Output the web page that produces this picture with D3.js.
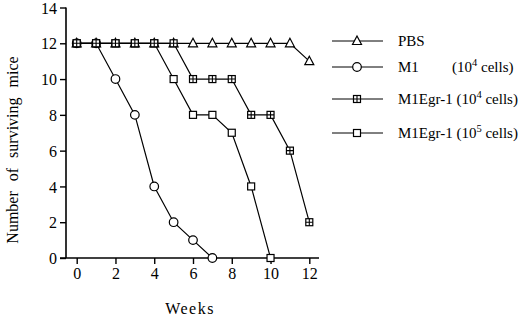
<!DOCTYPE html>
<html><head><meta charset="utf-8">
<script src="https://cdn.jsdelivr.net/npm/d3@7"></script>
<style>body{margin:0;background:#fff}svg{display:block}</style>
</head><body>
<svg id="c" width="520" height="320" style="font-family:'Liberation Serif',serif"></svg>
<script>
const weeks = [0,1,2,3,4,5,6,7,8,9,10,11,12];
const pbs = [12,12,12,12,12,12,12,12,12,12,12,12,11];
const m1 = [12,12,10,8,4,2,1,0];
const egr4 = [12,12,12,12,12,12,10,10,10,8,8,6,2];
const egr5 = [12,12,12,12,12,10,8,8,7,4,0];
const xTicks = [0,2,4,6,8,10,12];
const yTicks = [0,2,4,6,8,10,12,14];
const series = [
  {name:"PBS", cells:null, exp:null, values:pbs, marker:"triangle"},
  {name:"M1", cells:"(10", exp:"4", values:m1, marker:"circle"},
  {name:"M1Egr-1", cells:"(10", exp:"5", values:egr5, marker:"square"},
  {name:"M1Egr-1", cells:"(10", exp:"4", values:egr4, marker:"crossed"}
];
const legendOrder = [0,1,3,2];
const FONT = "'Liberation Serif', serif";

const svg = d3.select("#c");
const x = d3.scaleLinear().domain([0,12]).range([76.7,309.3]);
const y = d3.scaleLinear().domain([0,14]).range([258,7.5]);

// axes
const gy = svg.append("g").attr("transform","translate(66,0)")
  .call(d3.axisLeft(y).tickValues(yTicks).tickSize(6).tickPadding(3).tickFormat(d3.format("d")));
gy.select(".domain").attr("d",`M0,${y(14)}V${y(0)}`);
const gx = svg.append("g").attr("transform","translate(0,258)")
  .call(d3.axisBottom(x).tickValues(xTicks).tickSize(6).tickPadding(4).tickFormat(d3.format("d")));
gx.select(".domain").attr("d","M60,0H319");
svg.selectAll(".domain").attr("stroke","#000").attr("stroke-width",1.6);
svg.selectAll(".tick line").attr("stroke","#000").attr("stroke-width",1.4);
gx.attr("font-family",null).attr("font-size",null);
gy.attr("font-family",null).attr("font-size",null);
svg.selectAll(".tick text").attr("font-size",16).attr("fill","#000");
gy.selectAll(".tick text").attr("dy","0.35em");

// labels
svg.append("text").attr("x",190).attr("y",314).attr("text-anchor","middle")
  .attr("font-size",16).attr("letter-spacing","1.5px").text("Weeks");
svg.append("text").attr("transform","translate(18,150) rotate(-90)").attr("text-anchor","middle")
  .attr("font-size",16).attr("word-spacing","6px").text("Number of surviving mice");

function drawMarker(g, type, cx, cy){
  if(type==="circle"){
    g.append("circle").attr("cx",cx).attr("cy",cy).attr("r",4.3).attr("fill","#fff").attr("stroke","#000").attr("stroke-width",1.2);
  } else if(type==="square"||type==="crossed"){
    const s=7;
    g.append("rect").attr("x",cx-s/2).attr("y",cy-s/2).attr("width",s).attr("height",s).attr("fill","#fff").attr("stroke","#000").attr("stroke-width",1.2);
    if(type==="crossed"){
      g.append("path").attr("d",`M${cx},${cy-s/2}V${cy+s/2}M${cx-s/2},${cy}H${cx+s/2}`).attr("stroke","#000").attr("stroke-width",1.1);
    }
  } else {
    g.append("path").attr("d",`M${cx},${cy-5}L${cx+4.5},${cy+3.5}L${cx-4.5},${cy+3.5}Z`).attr("fill","#fff").attr("stroke","#000").attr("stroke-width",1.2);
  }
}

const line = d3.line().x((d,i)=>x(weeks[i])).y(d=>y(d));
series.forEach(s=>{
  const g = svg.append("g");
  g.append("path").datum(s.values).attr("d",line).attr("fill","none").attr("stroke","#000").attr("stroke-width",1.2);
  s.values.forEach((v,i)=>drawMarker(g,s.marker,x(weeks[i]),y(v)));
});

// legend
const rowsY = [41,67,99,133];
legendOrder.forEach((si,k)=>{
  const s = series[si];
  const g = svg.append("g");
  const ly = rowsY[k];
  g.append("line").attr("x1",332).attr("x2",383).attr("y1",ly).attr("y2",ly).attr("stroke","#000").attr("stroke-width",1);
  drawMarker(g,s.marker,357,ly);
  const t = g.append("text").attr("x",398).attr("y",ly+5).attr("font-size",15);
  t.append("tspan").text(s.name);
  if(s.cells){
    const tgt = s.name==="M1" ? g.append("text").attr("x",452).attr("y",ly+5).attr("font-size",15) : t;
    tgt.append("tspan").text((s.name==="M1"?"":" ")+s.cells);
    tgt.append("tspan").attr("font-size",10.5).attr("dy",-6).text(s.exp);
    tgt.append("tspan").attr("dy",6).text(" cells)");
  }
});
svg.selectAll("text").style("font-family",FONT).attr("fill","#000");
</script>
</body></html>
